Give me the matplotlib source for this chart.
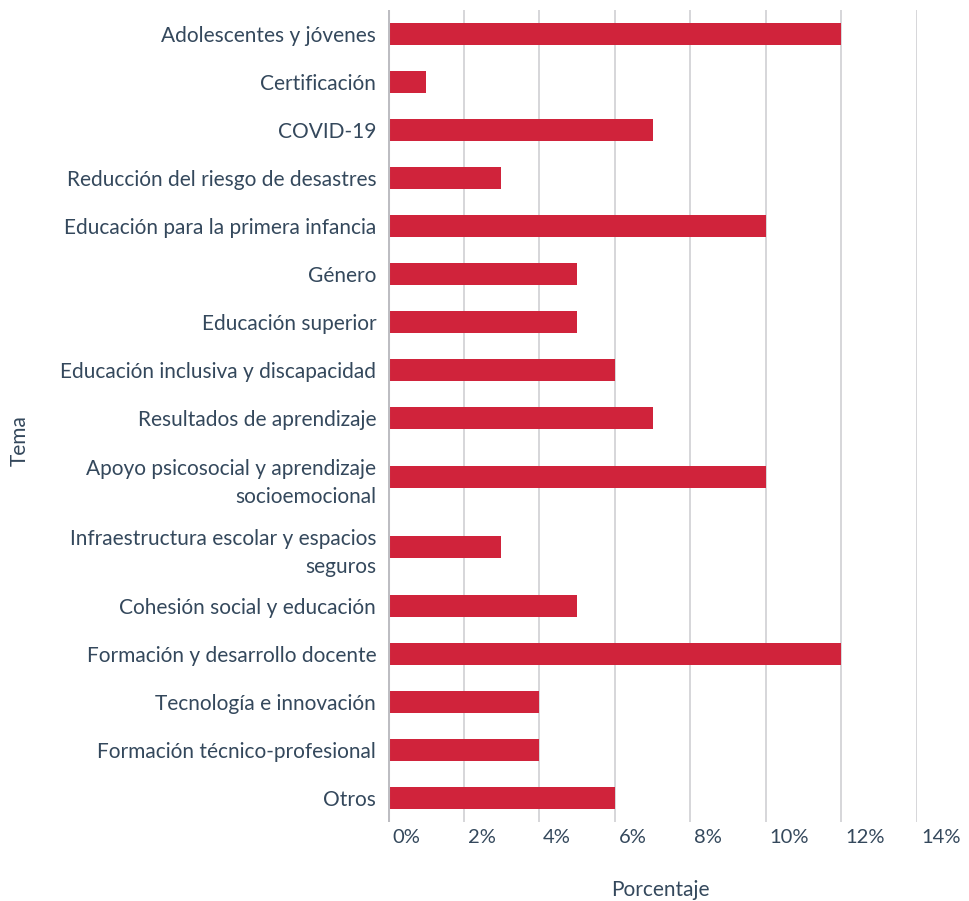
import matplotlib.pyplot as plt
import matplotlib.transforms as mtrans

plt.rcParams['font.family'] = ['Lato', 'DejaVu Sans']

# datos
temas = ["Adolescentes y jóvenes", "Certificación", "COVID-19",
         "Reducción del riesgo de desastres", "Educación para la primera infancia",
         "Género", "Educación superior", "Educación inclusiva y discapacidad",
         "Resultados de aprendizaje",
         "Apoyo psicosocial y aprendizaje\nsocioemocional",
         "Infraestructura escolar y espacios\nseguros",
         "Cohesión social y educación", "Formación y desarrollo docente",
         "Tecnología e innovación", "Formación técnico-profesional", "Otros"]
porcentaje = [12, 1, 7, 3, 10, 5, 5, 6, 7, 10, 3, 5, 12, 4, 4, 6]
ticks = [0, 2, 4, 6, 8, 10, 12, 14]
tick_labels = ["0%", "2%", "4%", "6%", "8%", "10%", "12%", "14%"]

texto = "#34485c"
rojo = "#d0233b"

# alto de cada fila segun lineas de la etiqueta
alto = [48 + 22 * (t.count("\n")) for t in temas]
pos = []
y = 0
for h in alto:
    pos.append(y + h / 2)
    y += h
total = y

fig = plt.figure(figsize=(9.7, 9.01), dpi=100)
ax = fig.add_axes([388 / 970, 1 - 822 / 901, (917 - 388) / 970, 812 / 901])

ax.barh(pos, porcentaje, height=22, color=rojo, zorder=3)
ax.set_ylim(total, 0)
ax.set_xlim(0, 14)

for t in ticks:
    if t == 0:
        ax.axvline(t, color="#bdbdc2", lw=2.2, zorder=4)
    else:
        ax.axvline(t, color="#cfcfd3", lw=1.2, zorder=1)

ax.set_yticks(pos)
ax.set_yticklabels(temas, fontsize=15, color=texto, linespacing=1.5)
ax.tick_params(axis="y", length=0, pad=8.5)
ax.set_xticks(ticks)
ax.set_xticklabels(tick_labels, fontsize=14.5, color=texto, ha="left")
ax.tick_params(axis="x", length=0, pad=5)
off = mtrans.ScaledTranslation(4 / 100, 0, fig.dpi_scale_trans)
for lab in ax.get_xticklabels():
    lab.set_transform(lab.get_transform() + off)

for s in ax.spines.values():
    s.set_visible(False)

fig.text(20 / 970, 1 - 441 / 901, "Tema", rotation=90, fontsize=15,
         color=texto, ha="center", va="center")
fig.text(660 / 970, 1 - 890 / 901, "Porcentaje", fontsize=15,
         color=texto, ha="center", va="center")

fig.savefig("out.png", dpi=100)
